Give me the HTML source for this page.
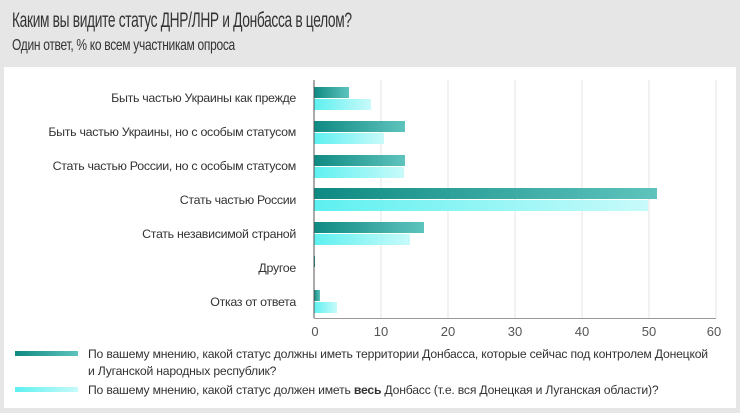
<!DOCTYPE html><html><head><meta charset="utf-8"><style>
body{margin:0;width:740px;height:413px;background:#e6e6e6;font-family:"Liberation Sans",sans-serif;position:relative;overflow:hidden}
.t{position:absolute;left:12px;top:9px;font-size:21px;color:#333;letter-spacing:-0.5px;transform:scaleX(0.655);transform-origin:0 0;white-space:nowrap}
.s{position:absolute;left:12px;top:37px;font-size:16px;color:#333;letter-spacing:-0.4px;transform:scaleX(0.75);transform-origin:0 0;white-space:nowrap}
.card{position:absolute;left:4px;top:67px;width:732px;height:341px;background:#fff}
</style></head><body>
<div class="t">Каким вы видите статус ДНР/ЛНР и Донбасса в целом?</div>
<div class="s">Один ответ, % ко всем участникам опроса</div>
<div class="card"></div>
<svg width="740" height="413" style="position:absolute;left:0;top:0" font-family="Liberation Sans, sans-serif">
<defs>
<linearGradient id="d" x1="0" x2="1"><stop offset="0" stop-color="#0e8a82"/><stop offset="1" stop-color="#5ec3bd"/></linearGradient>
<linearGradient id="l" x1="0" x2="1"><stop offset="0" stop-color="#5ef0f0"/><stop offset="1" stop-color="#c8fafa"/></linearGradient>
</defs>
<g stroke="#e4e4e4" stroke-width="1">
<line x1="381" y1="80" x2="381" y2="318"/><line x1="448" y1="80" x2="448" y2="318"/><line x1="515" y1="80" x2="515" y2="318"/><line x1="582" y1="80" x2="582" y2="318"/><line x1="649" y1="80" x2="649" y2="318"/><line x1="716" y1="80" x2="716" y2="318"/>
</g>
<g>
<rect x="314" y="87" width="35" height="11" fill="url(#d)"/><rect x="314" y="99" width="57" height="11" fill="url(#l)"/>
<rect x="314" y="121" width="91" height="11" fill="url(#d)"/><rect x="314" y="133" width="70" height="11" fill="url(#l)"/>
<rect x="314" y="155" width="91" height="11" fill="url(#d)"/><rect x="314" y="167" width="90" height="11" fill="url(#l)"/>
<rect x="314" y="188" width="343" height="11" fill="url(#d)"/><rect x="314" y="200" width="334" height="11" fill="url(#l)"/>
<rect x="314" y="222" width="110" height="11" fill="url(#d)"/><rect x="314" y="234" width="96" height="11" fill="url(#l)"/>
<rect x="314" y="256" width="1" height="11" fill="#0e8a82"/>
<rect x="314" y="290" width="6" height="11" fill="url(#d)"/><rect x="314" y="302" width="23" height="11" fill="url(#l)"/>
</g>
<line x1="314" y1="80" x2="314" y2="318" stroke="#555"/>
<line x1="314" y1="318.5" x2="716" y2="318.5" stroke="#999"/>
<g font-size="12.4" fill="#333" text-anchor="end" letter-spacing="-0.3">
<text x="296" y="102">Быть частью Украины как прежде</text>
<text x="296" y="136">Быть частью Украины, но с особым статусом</text>
<text x="296" y="170">Стать частью России, но с особым статусом</text>
<text x="296" y="204">Стать частью России</text>
<text x="296" y="238">Стать независимой страной</text>
<text x="296" y="272">Другое</text>
<text x="296" y="306">Отказ от ответа</text>
</g>
<g font-size="13" fill="#555" text-anchor="middle">
<text x="315" y="336">0</text><text x="381" y="336">10</text><text x="448" y="336">20</text><text x="515" y="336">30</text><text x="582" y="336">40</text><text x="649" y="336">50</text><text x="714" y="336">60</text>
</g>
<rect x="15" y="351" width="63" height="5" fill="url(#d)"/>
<rect x="15" y="387" width="63" height="5" fill="url(#l)"/>
<g font-size="12.2" fill="#333" letter-spacing="-0.2">
<text x="88" y="358">По вашему мнению, какой статус должны иметь территории Донбасса, которые сейчас под контролем Донецкой</text>
<text x="88" y="375">и Луганской народных республик?</text>
<text x="88" y="394">По вашему мнению, какой статус должен иметь <tspan font-weight="bold">весь</tspan> Донбасс (т.е. вся Донецкая и Луганская области)?</text>
</g>
</svg>
</body></html>
